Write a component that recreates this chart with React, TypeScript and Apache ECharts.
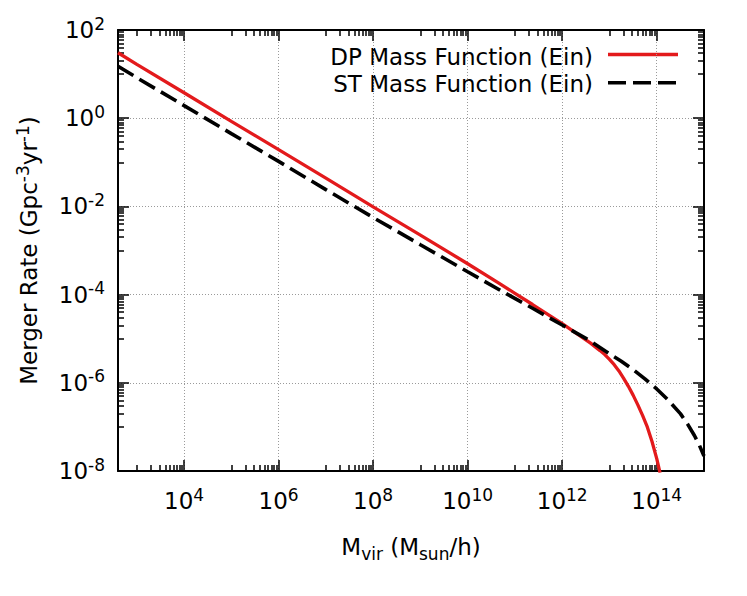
import { useEffect, useRef } from "react";
import * as echarts from "echarts";

// Halo mass (M_sun/h) and merger rate (Gpc^-3 yr^-1)
const dpMass = [4e2, 1e3, 1e4, 1e5, 1e6, 1e7, 1e8, 1e9, 1e10, 4.65e10, 1e11, 2.36e11, 1e12, 2.512e12, 3.981e12, 6.31e12, 7.943e12, 1e13, 1.259e13, 1.585e13, 1.995e13, 2.512e13, 3.162e13, 3.981e13, 5.012e13, 6.31e13, 7.943e13, 1e14, 1.175e14];
const dpRate = [30.5, 16.6, 3.78, 0.851, 0.193, 0.0437, 9.77e-3, 2.24e-3, 5.01e-4, 1.8e-4, 1.07e-4, 5.96e-5, 2.19e-5, 1.12e-5, 7.94e-6, 5.37e-6, 4.37e-6, 3.39e-6, 2.57e-6, 1.86e-6, 1.26e-6, 8.32e-7, 5.25e-7, 3.16e-7, 1.82e-7, 1.0e-7, 4.68e-8, 1.91e-8, 9.1e-9];

const stMass = [4e2, 1e3, 1e4, 1e5, 1e6, 1e7, 1e8, 1e9, 1e10, 5.46e10, 2.36e11, 1e12, 3.16e12, 1e13, 1.778e13, 3.162e13, 5.623e13, 1e14, 1.778e14, 3.162e14, 4.467e14, 6.31e14, 7.943e14, 1e15];
const stRate = [15.1, 8.3, 1.93, 0.447, 0.105, 0.024, 5.6e-3, 1.35e-3, 3.3e-4, 1.17e-4, 4.9e-5, 2.04e-5, 1.02e-5, 4.57e-6, 3.09e-6, 2.0e-6, 1.23e-6, 7.24e-7, 3.98e-7, 2.0e-7, 1.17e-7, 6.31e-8, 3.89e-8, 2.19e-8];

const seriesNames = ["DP Mass Function (Ein)", "ST Mass Function (Ein)"];

// axis range and tick exponents
const xRange = [400, 1e15];
const yRange = [1e-8, 1e2];
const xMajorExp = [4, 6, 8, 10, 12, 14];
const yMajorExp = [-8, -6, -4, -2, 0, 2];
const xMinorDecades = [3, 5, 7, 9, 11, 13];
const yMinorDecades = [-7, -5, -3, -1, 1];
const minorMultipliers = [1, 2, 3, 4, 5, 6, 7, 8, 9];

const FONT = "DejaVu Sans";
const RED = "#e31a1c";

export default function App() {
  const ref = useRef<HTMLDivElement>(null);

  useEffect(() => {
    document.body.style.margin = "0";
    if (!ref.current) return;
    const chart = echarts.init(ref.current, null, { renderer: "svg" });

    const lg = (v: number) => Math.log10(v);
    const xMin = lg(xRange[0]);
    const xMax = lg(xRange[1]);
    const yMin = lg(yRange[0]);
    const yMax = lg(yRange[1]);

    const minorOf = (decs: number[]) => {
      const out: number[] = [];
      decs.forEach((n) => minorMultipliers.forEach((k) => out.push(n + Math.log10(k))));
      return out;
    };
    const xMinor = minorOf(xMinorDecades).filter((v) => v > xMin && v < xMax);
    const yMinor = minorOf(yMinorDecades).filter((v) => v > yMin && v < yMax);

    const lineStyle = { color: "#000", width: 2 };
    const tickLine = { color: "#000", width: 1.5 };
    const labelRich = {
      b: { fontSize: 23, lineHeight: 30, fontFamily: FONT, color: "#000" },
      s: { fontSize: 17, lineHeight: 17, fontFamily: FONT, color: "#000", verticalAlign: "top" },
    };
    const fmt = (v: number) => `{b|10}{s|${Math.round(v)}}`;
    const splitLine = { show: true, lineStyle: { color: "#9a9a9a", width: 1, type: [1, 2] } };

    const gridRect = { left: 118, top: 30, width: 586, height: 441, outerBoundsMode: "none" };

    const mkX = (grid: number, position: string, major: boolean, main: boolean): any => ({
      type: "value",
      gridIndex: grid,
      position,
      min: xMin,
      max: xMax,
      axisLine: { show: major, onZero: false, lineStyle },
      axisTick: { show: true, inside: true, length: major ? 11 : 6, customValues: major ? xMajorExp : xMinor, lineStyle: tickLine },
      axisLabel: main
        ? { show: true, customValues: xMajorExp, formatter: fmt, margin: 15, rich: labelRich }
        : { show: false },
      splitLine: main ? splitLine : { show: false },
      ...(main
        ? {
            name: "{m|M}{sub|vir}{m| (M}{sub|sun}{m|/h)}",
            nameLocation: "middle",
            nameGap: 61,
            nameTextStyle: {
              fontFamily: FONT,
              fontSize: 23,
              color: "#000",
              rich: {
                m: { fontSize: 23, lineHeight: 30, fontFamily: FONT, color: "#000" },
                sub: { fontSize: 17, lineHeight: 17, fontFamily: FONT, color: "#000", verticalAlign: "bottom" },
              },
            },
          }
        : {}),
    });

    const mkY = (grid: number, position: string, major: boolean, main: boolean): any => ({
      type: "value",
      gridIndex: grid,
      position,
      min: yMin,
      max: yMax,
      axisLine: { show: major, onZero: false, lineStyle },
      axisTick: { show: true, inside: true, length: major ? 11 : 6, customValues: major ? yMajorExp : yMinor, lineStyle: tickLine },
      axisLabel: main
        ? { show: true, customValues: yMajorExp, formatter: fmt, margin: 13, rich: labelRich }
        : { show: false },
      splitLine: main ? splitLine : { show: false },
      ...(main
        ? {
            name: "{m|Merger Rate (Gpc}{sup|-3}{m|yr}{sup|-1}{m|)}",
            nameLocation: "middle",
            nameRotate: 90,
            nameGap: 74,
            nameTextStyle: {
              fontFamily: FONT,
              fontSize: 23,
              color: "#000",
              rich: {
                m: { fontSize: 23, lineHeight: 30, fontFamily: FONT, color: "#000" },
                sup: { fontSize: 17, lineHeight: 17, fontFamily: FONT, color: "#000", verticalAlign: "top" },
              },
            },
          }
        : {}),
    });

    const option: any = {
      animation: false,
      backgroundColor: "#fff",
      textStyle: { fontFamily: FONT },
      grid: [{ ...gridRect }, { ...gridRect }],
      xAxis: [mkX(0, "bottom", true, true), mkX(0, "top", true, false), mkX(1, "bottom", false, false), mkX(1, "top", false, false)],
      yAxis: [mkY(0, "left", true, true), mkY(0, "right", true, false), mkY(1, "left", false, false), mkY(1, "right", false, false)],
      series: [
        {
          name: seriesNames[0],
          type: "line",
          xAxisIndex: 0,
          yAxisIndex: 0,
          showSymbol: false,
          symbol: "none",
          clip: true,
          lineStyle: { color: RED, width: 3.3 },
          itemStyle: { color: RED },
          data: dpMass.map((m, i) => [lg(m), lg(dpRate[i])]),
        },
        {
          name: seriesNames[1],
          type: "line",
          xAxisIndex: 0,
          yAxisIndex: 0,
          showSymbol: false,
          symbol: "none",
          clip: true,
          lineStyle: { color: "#000", width: 3.6, type: [18, 7] },
          itemStyle: { color: "#000" },
          data: stMass.map((m, i) => [lg(m), lg(stRate[i])]),
        },
      ],
      graphic: [
        {
          type: "text",
          x: 593,
          y: 57,
          style: { text: seriesNames[0], fill: "#000", font: `23px "${FONT}"`, textAlign: "right", textVerticalAlign: "middle" },
        },
        {
          type: "line",
          shape: { x1: 608, y1: 54.5, x2: 678, y2: 54.5 },
          style: { stroke: RED, lineWidth: 3.3 },
        },
        {
          type: "text",
          x: 593,
          y: 84,
          style: { text: seriesNames[1], fill: "#000", font: `23px "${FONT}"`, textAlign: "right", textVerticalAlign: "middle" },
        },
        {
          type: "line",
          shape: { x1: 608, y1: 82.7, x2: 678, y2: 82.7 },
          style: { stroke: "#000", lineWidth: 3.6, lineDash: [18, 7] },
        },
      ],
    };

    chart.setOption(option);
    return () => chart.dispose();
  }, []);

  return <div ref={ref} style={{ width: 747, height: 596 }} />;
}
